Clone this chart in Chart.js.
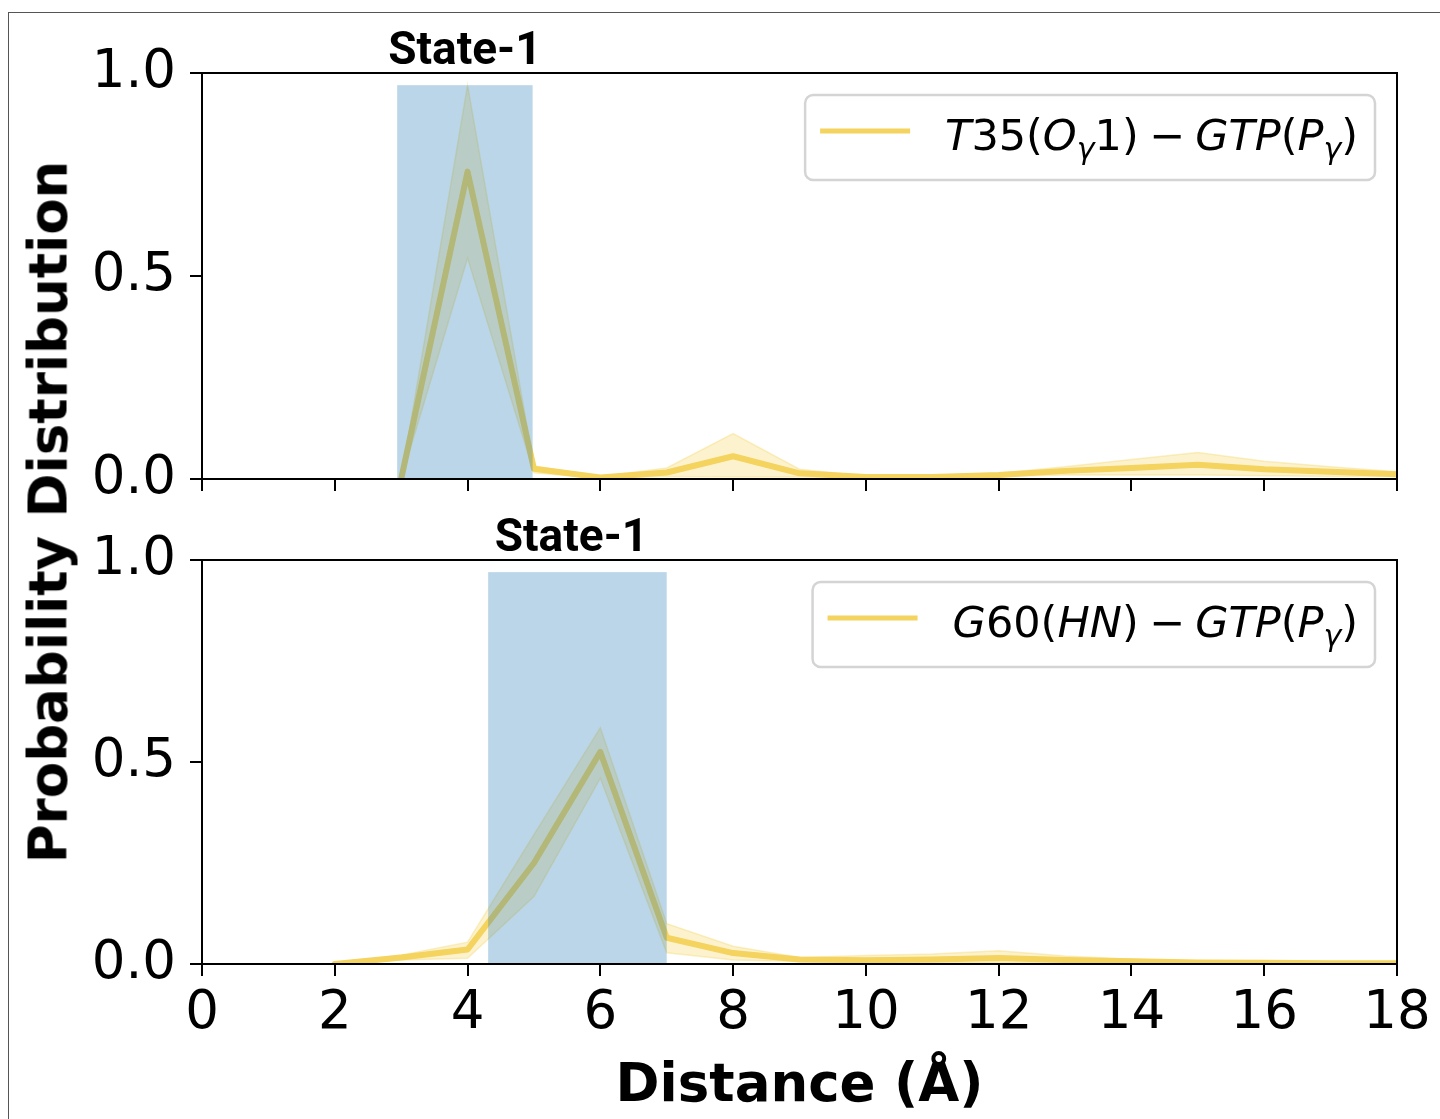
<!DOCTYPE html>
<html><head><meta charset="utf-8">
<script src="https://cdn.jsdelivr.net/npm/chart.js@4.4.1/dist/chart.umd.min.js"></script>
<style>
html,body{margin:0;padding:0;background:#fff;width:1440px;height:1119px;overflow:hidden;position:relative;}
#frame{position:absolute;left:8px;top:12px;width:1500px;height:1200px;border:1px solid #555;box-sizing:border-box;}
.wrap{position:absolute;left:0;width:1440px;}
#w1{top:0;height:540px;}
#w2{top:500px;height:619px;}
#ytitle{position:absolute;left:48px;top:512px;transform:translate(-50%,-50%) rotate(-90deg);font:bold 53px "DejaVu Sans";white-space:nowrap;color:#000;}
</style></head>
<body>
<div id="frame"></div>
<div class="wrap" id="w1"><canvas id="c1" width="1440" height="540"></canvas></div>
<div class="wrap" id="w2"><canvas id="c2" width="1440" height="619"></canvas></div>
<div id="ytitle">Probability Distribution</div>
<script>
// ---- data ----
const topDistance = [3,4,5,6,7,8,9,10,11,12,13,14,15,16,17,18];
const topMean  = [0,0.757,0.025,0.004,0.016,0.056,0.014,0.005,0.005,0.010,0.020,0.027,0.035,0.024,0.018,0.012];
const topUpper = [0,0.970,0.032,0.006,0.027,0.112,0.024,0.007,0.008,0.014,0.030,0.048,0.065,0.044,0.030,0.018];
const topLower = [0,0.544,0.015,0.002,0.006,0.005,0.005,0.003,0.003,0.006,0.010,0.010,0.010,0.008,0.006,0.006];

const botDistance = [2,3,4,5,6,7,8,9,10,11,12,13,14,15,16,17,18];
const botMean  = [0,0.016,0.036,0.250,0.525,0.065,0.027,0.011,0.009,0.011,0.015,0.010,0.007,0.004,0.003,0.002,0.002];
const botUpper = [0,0.022,0.054,0.320,0.585,0.100,0.044,0.016,0.021,0.025,0.033,0.020,0.012,0.007,0.005,0.004,0.003];
const botLower = [0,0.010,0.014,0.167,0.460,0.028,0.010,0.006,0.003,0.003,0.003,0.003,0.002,0.001,0.001,0.001,0.001];

const topLabel = "T35(O_γ1) − GTP(P_γ)";
const botLabel = "G60(HN) − GTP(P_γ)";
const topState = [2.94, 4.98];
const botState = [4.31, 7.0];
const stateName = "State-1";
const stateYMax = 0.97;
const xTickValues = [0,2,4,6,8,10,12,14,16,18];
const yTickValues = [0,0.5,1.0];
const xTitle = "Distance (Å)";

// ---- helpers ----
const LINE = '#F4D35E';
const BAND = 'rgba(244,211,94,0.30)';
const BANDEDGE = 'rgba(244,211,94,0.35)';
const pts = (xs, ys) => xs.map((x,i)=>({x, y: ys[i]}));

function mathRuns(str){
  const runs=[];
  for(let i=0;i<str.length;i++){
    let ch=str[i], sub=false;
    if(ch==='_'){sub=true; ch=str[++i];}
    runs.push({ch, sub, italic:/[A-Za-z\u03b1-\u03c9]/.test(ch)});
  }
  return runs;
}
function runFont(r,size){
  const s = r.sub ? size*0.7 : size;
  return (r.italic?'italic ':'')+s+'px "DejaVu Sans"';
}
function runAdvance(ctx,r,size){
  ctx.font=runFont(r,size);
  let w=ctx.measureText(r.ch).width;
  if(r.ch===' ') w*=0.75;
  return w;
}
function mathWidth(ctx,str,size){
  let w=0;
  for(const r of mathRuns(str)) w+=runAdvance(ctx,r,size);
  return w;
}
function drawMath(ctx,str,x,y,size){
  ctx.textBaseline='alphabetic'; ctx.textAlign='left'; ctx.fillStyle='#000';
  for(const r of mathRuns(str)){
    const w=runAdvance(ctx,r,size);
    ctx.font=runFont(r,size);
    ctx.fillText(r.ch, x, y + (r.sub? size*0.2 : 0));
    x+=w;
  }
}

const decor = {
  id:'decor',
  afterDatasetsDraw(chart, args, opts){
    const {ctx, chartArea:a, scales} = chart;
    const xs = scales.x;
    ctx.save();
    // state span
    const x0 = xs.getPixelForValue(opts.span[0]), x1 = xs.getPixelForValue(opts.span[1]);
    const yTop = a.bottom - (a.bottom-a.top)*stateYMax;
    ctx.fillStyle='rgba(31,119,180,0.3)';
    ctx.fillRect(x0, yTop, x1-x0, a.bottom-yTop);
    // frame
    ctx.strokeStyle='#000'; ctx.lineWidth=2;
    ctx.strokeRect(a.left, a.top, a.right-a.left, a.bottom-a.top);
    // state label
    ctx.fillStyle='#000'; ctx.font='bold 46px Roboto'; ctx.textAlign='center'; ctx.textBaseline='alphabetic';
    ctx.fillText(stateName, (x0+x1)/2 + opts.labelShift, a.top-9);
    // legend
    const size=43;
    const tw = mathWidth(ctx, opts.label, size);
    const boxR = a.right-22, boxT = a.top+22, boxH=85;
    const textEnd = boxR-17, textStart = textEnd-tw;
    const hEnd = textStart-35, hStart = hEnd-90, boxL = hStart-15;
    ctx.beginPath();
    ctx.roundRect(boxL, boxT, boxR-boxL, boxH, 8);
    ctx.fillStyle='rgba(255,255,255,0.8)'; ctx.fill();
    ctx.strokeStyle='#d4d4d4'; ctx.lineWidth=2.5; ctx.stroke();
    ctx.beginPath(); ctx.moveTo(hStart, boxT+36); ctx.lineTo(hEnd, boxT+36);
    ctx.strokeStyle=LINE; ctx.lineWidth=5; ctx.lineCap='butt'; ctx.stroke();
    drawMath(ctx, opts.label, textStart, boxT+55, size);
    ctx.restore();
  }
};

function makeChart(id, xs, mean, up, lo, span, label, isBottom){
  const axisH = isBottom ? 155 : 61;
  return new Chart(document.getElementById(id), {
    type:'line',
    data:{datasets:[
      {data:pts(xs,mean), borderColor:LINE, borderWidth:6, pointRadius:0, fill:false, tension:0, borderJoinStyle:'round', borderCapStyle:'round', order:0},
      {data:pts(xs,up), borderColor:BANDEDGE, borderWidth:1.5, pointRadius:0, fill:'+1', backgroundColor:BAND, tension:0, order:1},
      {data:pts(xs,lo), borderColor:BANDEDGE, borderWidth:1.5, pointRadius:0, fill:false, tension:0, order:2}
    ]},
    options:{
      responsive:false, animation:false, devicePixelRatio:1,
      layout:{padding:{top: isBottom?60:73, right:43, bottom:0, left:0}},
      plugins:{legend:{display:false}, tooltip:{enabled:false}, decor:{span, label, labelShift: isBottom?-6:0}},
      scales:{
        x:{type:'linear', min:0, max:18,
          afterBuildTicks:s=>{s.ticks = xTickValues.map(v=>({value:v}));},
          afterFit:s=>{s.height = axisH;},
          ticks:{display:isBottom, color:'#000', font:{family:'DejaVu Sans', size:53}, padding:6, maxRotation:0, autoSkip:false, callback:v=>String(v)},
          grid:{display:true, drawOnChartArea:false, drawTicks:true, tickLength:12, tickWidth:2, tickColor:'#000', color:'#000', lineWidth:2},
          border:{display:false},
          title:{display:isBottom, text:xTitle, color:'#000', font:{family:'DejaVu Sans', size:53, weight:'bold'}, padding:{top:0,bottom:0}}
        },
        y:{type:'linear', min:0, max:1,
          afterBuildTicks:s=>{s.ticks = yTickValues.map(v=>({value:v}));},
          afterFit:s=>{s.width = 202;},
          ticks:{color:'#000', font:{family:'DejaVu Sans', size:53}, padding:14, callback:v=>Number(v).toFixed(1)},
          grid:{display:true, drawOnChartArea:false, drawTicks:true, tickLength:12, tickWidth:2, tickColor:'#000', color:'#000', lineWidth:2},
          border:{display:false}
        }
      }
    },
    plugins:[decor]
  });
}
makeChart('c1', topDistance, topMean, topUpper, topLower, topState, topLabel, false);
makeChart('c2', botDistance, botMean, botUpper, botLower, botState, botLabel, true);
</script>
</body></html>
